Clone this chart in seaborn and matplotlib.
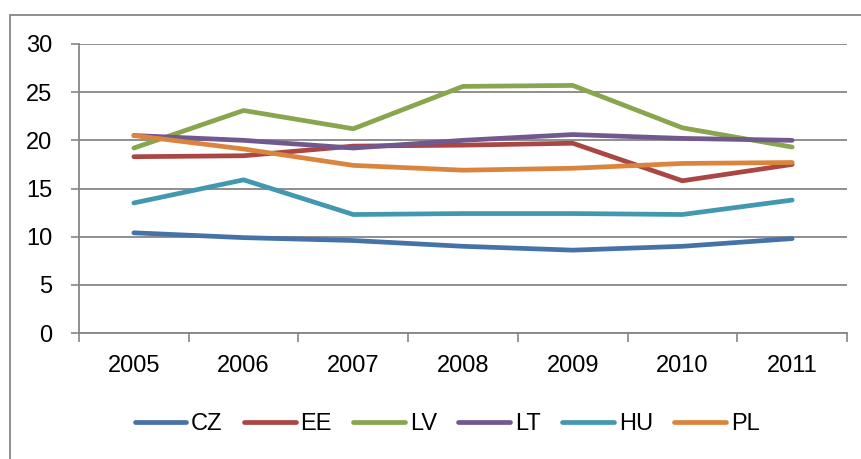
import matplotlib
matplotlib.use('agg')
import matplotlib.pyplot as plt
from matplotlib.patches import Rectangle
import pandas as pd
import seaborn as sns

years = ['2005', '2006', '2007', '2008', '2009', '2010', '2011']
cz = [10.4, 9.9, 9.6, 9.0, 8.6, 9.0, 9.8]
ee = [18.3, 18.4, 19.4, 19.5, 19.7, 15.8, 17.5]
lv = [19.2, 23.1, 21.2, 25.6, 25.7, 21.3, 19.3]
lt = [20.5, 20.0, 19.2, 20.0, 20.6, 20.2, 20.0]
hu = [13.5, 15.9, 12.3, 12.4, 12.4, 12.3, 13.8]
pl = [20.5, 19.1, 17.4, 16.9, 17.1, 17.6, 17.7]

series = {'CZ': cz, 'EE': ee, 'LV': lv, 'LT': lt, 'HU': hu, 'PL': pl}
palette = {'CZ': '#4572A7', 'EE': '#AA4643', 'LV': '#89A54E',
           'LT': '#71588F', 'HU': '#4198AF', 'PL': '#DB843D'}

rows = []
for name, vals in series.items():
    for i, v in enumerate(vals):
        rows.append({'pos': i, 'year': years[i], 'country': name, 'value': v})
df = pd.DataFrame(rows)

sns.set_theme(style='white')
plt.rcParams['font.family'] = ['Liberation Sans', 'DejaVu Sans']
plt.rcParams['text.color'] = 'black'
plt.rcParams['xtick.labelcolor'] = 'black'
plt.rcParams['ytick.labelcolor'] = 'black'
grey = '#868686'
fs = 17

fig = plt.figure(figsize=(8.62, 4.59), dpi=100)
W, H = 862, 459
ax = fig.add_axes([79 / W, (H - 333) / H, (847 - 79) / W, (333 - 44) / H])

# chart area border (cropped on right and bottom)
fig.patches.append(Rectangle((10 / W, -0.2), 1.5, (H - 15) / H + 0.2,
                             transform=fig.transFigure, fill=False,
                             edgecolor=grey, linewidth=1.3))

sns.lineplot(data=df, x='pos', y='value', hue='country', palette=palette,
             hue_order=list(series.keys()), linewidth=3.4, ax=ax,
             legend=False, sort=False)
for line in ax.lines:
    line.set_solid_capstyle('round')

ax.set_xlim(-0.5, 6.5)
ax.set_ylim(0, 30)
ax.set_yticks(range(0, 31, 5))
ax.set_xticks(range(7))
ax.set_xticklabels(years)
ax.set_xticks([i - 0.5 for i in range(8)], minor=True)
ax.tick_params(axis='x', which='major', length=0, pad=16, labelsize=fs)
ax.tick_params(axis='x', which='minor', length=6.5, width=1.2, color=grey,
               direction='out', bottom=True)
ax.tick_params(axis='y', length=6, width=1.2, color=grey, direction='out',
               pad=13, labelsize=fs, left=True)
ax.grid(axis='y', color=grey, linewidth=1.3)
ax.set_axisbelow(True)
for s in ['top', 'right']:
    ax.spines[s].set_visible(False)
for s in ['left', 'bottom']:
    ax.spines[s].set_color(grey)
    ax.spines[s].set_linewidth(1.3)
ax.set_xlabel('')
ax.set_ylabel('')

handles = [plt.Line2D([], [], color=palette[n], linewidth=3.4,
                      solid_capstyle='round') for n in series]
fig.legend(handles, list(series.keys()), loc='center',
           bbox_to_anchor=(447 / W, (H - 424) / H), ncol=6, frameon=False,
           fontsize=fs, handlelength=2.2, handletextpad=0.2,
           columnspacing=0.9)

fig.savefig('out.png', dpi=100)
